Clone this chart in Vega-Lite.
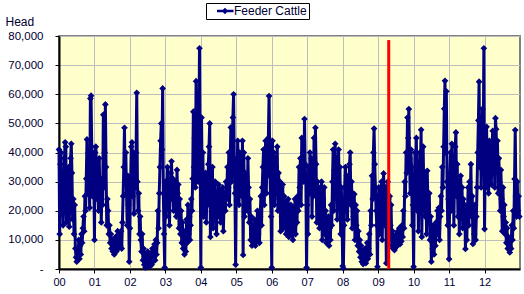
{
"$schema":"https://vega.github.io/schema/vega-lite/v6.json",
"width":461,"height":233,
"autosize":{"type":"none"},
"padding":{"left":59,"top":36,"right":4,"bottom":25},
"background":"white",
"config":{"view":{"fill":"#FFFFCC","stroke":"#808080","strokeWidth":2},"font":"Liberation Sans"},
"datasets":{
"red":[{"w":483.5,"v":78600,"v2":0}],
"s":[
{"w":0,"v":41000},{"w":1,"v":12000},{"w":2,"v":36000},{"w":3,"v":40000},{"w":4,"v":19000},{"w":5,"v":31000},{"w":6,"v":15000},{"w":7,"v":24000},{"w":8,"v":38000},{"w":9,"v":43500},
{"w":10,"v":42000},{"w":11,"v":16000},{"w":12,"v":30000},{"w":13,"v":20000},{"w":14,"v":35000},{"w":15,"v":14500},{"w":16,"v":27000},{"w":17,"v":38000},{"w":18,"v":43000},{"w":19,"v":33000},
{"w":20,"v":17000},{"w":21,"v":24000},{"w":22,"v":12000},{"w":23,"v":22000},{"w":24,"v":7000},{"w":25,"v":4000},{"w":26,"v":2500},{"w":27,"v":6000},{"w":28,"v":4500},{"w":29,"v":10000},
{"w":30,"v":3500},{"w":31,"v":8000},{"w":32,"v":5000},{"w":33,"v":12000},{"w":34,"v":9000},{"w":35,"v":14000},{"w":36,"v":18000},{"w":37,"v":13000},{"w":38,"v":25000},{"w":39,"v":20000},
{"w":40,"v":31000},{"w":41,"v":44500},{"w":42,"v":26000},{"w":43,"v":40000},{"w":44,"v":33000},{"w":45,"v":21000},{"w":46,"v":58500},{"w":47,"v":59500},{"w":48,"v":42000},{"w":49,"v":25000},
{"w":50,"v":40000},{"w":51,"v":34000},
{"w":52,"v":10000},{"w":53,"v":40000},{"w":54,"v":42000},{"w":55,"v":35000},{"w":56,"v":24000},{"w":57,"v":30000},{"w":58,"v":20000},{"w":59,"v":38000},{"w":60,"v":26000},{"w":61,"v":31000},
{"w":62,"v":16000},{"w":63,"v":30000},{"w":64,"v":22000},{"w":65,"v":53000},{"w":66,"v":28000},{"w":67,"v":40000},{"w":68,"v":56500},{"w":69,"v":35000},{"w":70,"v":15000},{"w":71,"v":24000},
{"w":72,"v":20000},{"w":73,"v":12000},{"w":74,"v":15000},{"w":75,"v":9000},{"w":76,"v":12000},{"w":77,"v":7000},{"w":78,"v":10000},{"w":79,"v":6000},{"w":80,"v":8000},{"w":81,"v":5000},
{"w":82,"v":7000},{"w":83,"v":11000},{"w":84,"v":6000},{"w":85,"v":9000},{"w":86,"v":13000},{"w":87,"v":7000},{"w":88,"v":10000},{"w":89,"v":12000},{"w":90,"v":8000},{"w":91,"v":13000},
{"w":92,"v":7000},{"w":93,"v":16000},{"w":94,"v":25000},{"w":95,"v":35000},{"w":96,"v":48500},{"w":97,"v":30000},{"w":98,"v":40000},{"w":99,"v":26000},{"w":100,"v":15000},{"w":101,"v":32000},
{"w":102,"v":22000},{"w":103,"v":2500},
{"w":104,"v":14000},{"w":105,"v":30000},{"w":106,"v":42000},{"w":107,"v":43500},{"w":108,"v":25000},{"w":109,"v":40000},{"w":110,"v":19000},{"w":111,"v":36000},{"w":112,"v":28000},{"w":113,"v":40000},
{"w":114,"v":60500},{"w":115,"v":30000},{"w":116,"v":20000},{"w":117,"v":26000},{"w":118,"v":12000},{"w":119,"v":18000},{"w":120,"v":10000},{"w":121,"v":6000},{"w":122,"v":12000},{"w":123,"v":3000},
{"w":124,"v":7000},{"w":125,"v":1500},{"w":126,"v":5000},{"w":127,"v":500},{"w":128,"v":3500},{"w":129,"v":1000},{"w":130,"v":6000},{"w":131,"v":2000},{"w":132,"v":4500},{"w":133,"v":800},
{"w":134,"v":3000},{"w":135,"v":5500},{"w":136,"v":1500},{"w":137,"v":7000},{"w":138,"v":2500},{"w":139,"v":4000},{"w":140,"v":8500},{"w":141,"v":3000},{"w":142,"v":10000},{"w":143,"v":5000},
{"w":144,"v":9000},{"w":145,"v":20000},{"w":146,"v":14000},{"w":147,"v":26000},{"w":148,"v":35000},{"w":149,"v":44000},{"w":150,"v":50000},{"w":151,"v":41000},{"w":152,"v":62000},{"w":153,"v":26000},
{"w":154,"v":12000},{"w":155,"v":500},
{"w":156,"v":30000},{"w":157,"v":18000},{"w":158,"v":26000},{"w":159,"v":35000},{"w":160,"v":22000},{"w":161,"v":30000},{"w":162,"v":15000},{"w":163,"v":27000},{"w":164,"v":33000},{"w":165,"v":37000},
{"w":166,"v":24000},{"w":167,"v":31000},{"w":168,"v":20000},{"w":169,"v":28000},{"w":170,"v":25000},{"w":171,"v":30000},{"w":172,"v":18000},{"w":173,"v":34000},{"w":174,"v":26000},{"w":175,"v":29000},
{"w":176,"v":14000},{"w":177,"v":24000},{"w":178,"v":12000},{"w":179,"v":20000},{"w":180,"v":9000},{"w":181,"v":16000},{"w":182,"v":7000},{"w":183,"v":13000},{"w":184,"v":5000},{"w":185,"v":11000},
{"w":186,"v":6000},{"w":187,"v":17000},{"w":188,"v":9000},{"w":189,"v":22000},{"w":190,"v":12000},{"w":191,"v":18000},{"w":192,"v":10000},{"w":193,"v":15000},{"w":194,"v":24000},{"w":195,"v":20000},
{"w":196,"v":31000},{"w":197,"v":54000},{"w":198,"v":35000},{"w":199,"v":45000},{"w":200,"v":28000},{"w":201,"v":64500},{"w":202,"v":42000},{"w":203,"v":55000},{"w":204,"v":30000},{"w":205,"v":40000},
{"w":206,"v":75800},{"w":207,"v":38000},
{"w":208,"v":500},{"w":209,"v":52000},{"w":210,"v":30000},{"w":211,"v":40000},{"w":212,"v":18000},{"w":213,"v":32000},{"w":214,"v":25000},{"w":215,"v":33000},{"w":216,"v":16000},{"w":217,"v":28000},
{"w":218,"v":22000},{"w":219,"v":36000},{"w":220,"v":42000},{"w":221,"v":50000},{"w":222,"v":11000},{"w":223,"v":30000},{"w":224,"v":24000},{"w":225,"v":35000},{"w":226,"v":14000},{"w":227,"v":27000},
{"w":228,"v":20000},{"w":229,"v":30000},{"w":230,"v":22000},{"w":231,"v":12000},{"w":232,"v":26000},{"w":233,"v":18000},{"w":234,"v":29000},{"w":235,"v":21000},{"w":236,"v":27000},{"w":237,"v":16000},
{"w":238,"v":24000},{"w":239,"v":19000},{"w":240,"v":28000},{"w":241,"v":13000},{"w":242,"v":22000},{"w":243,"v":26000},{"w":244,"v":20000},{"w":245,"v":30000},{"w":246,"v":24000},{"w":247,"v":35000},
{"w":248,"v":28000},{"w":249,"v":40000},{"w":250,"v":22000},{"w":251,"v":36000},{"w":252,"v":48600},{"w":253,"v":30000},{"w":254,"v":42000},{"w":255,"v":52000},{"w":256,"v":60000},{"w":257,"v":38000},
{"w":258,"v":26000},{"w":259,"v":1500},
{"w":260,"v":28000},{"w":261,"v":30000},{"w":262,"v":44000},{"w":263,"v":36000},{"w":264,"v":22000},{"w":265,"v":40000},{"w":266,"v":28000},{"w":267,"v":34000},{"w":268,"v":25000},{"w":269,"v":44000},
{"w":270,"v":4800},{"w":271,"v":40000},{"w":272,"v":18000},{"w":273,"v":33000},{"w":274,"v":24000},{"w":275,"v":30000},{"w":276,"v":20000},{"w":277,"v":38000},{"w":278,"v":28000},{"w":279,"v":16000},
{"w":280,"v":24000},{"w":281,"v":10000},{"w":282,"v":18000},{"w":283,"v":8000},{"w":284,"v":15000},{"w":285,"v":11000},{"w":286,"v":9000},{"w":287,"v":17000},{"w":288,"v":8000},{"w":289,"v":13000},
{"w":290,"v":10000},{"w":291,"v":20000},{"w":292,"v":12000},{"w":293,"v":15000},{"w":294,"v":9000},{"w":295,"v":18000},{"w":296,"v":25000},{"w":297,"v":15000},{"w":298,"v":28000},{"w":299,"v":35000},
{"w":300,"v":41000},{"w":301,"v":22000},{"w":302,"v":36000},{"w":303,"v":44000},{"w":304,"v":26000},{"w":305,"v":40000},{"w":306,"v":32000},{"w":307,"v":45000},{"w":308,"v":59400},{"w":309,"v":38000},
{"w":310,"v":26000},{"w":311,"v":18000},
{"w":312,"v":500},{"w":313,"v":44000},{"w":314,"v":30000},{"w":315,"v":40000},{"w":316,"v":22000},{"w":317,"v":38000},{"w":318,"v":35000},{"w":319,"v":26000},{"w":320,"v":42000},{"w":321,"v":20000},
{"w":322,"v":33000},{"w":323,"v":24000},{"w":324,"v":30000},{"w":325,"v":13000},{"w":326,"v":28000},{"w":327,"v":18000},{"w":328,"v":29000},{"w":329,"v":14000},{"w":330,"v":25000},{"w":331,"v":17000},
{"w":332,"v":23000},{"w":333,"v":12000},{"w":334,"v":20000},{"w":335,"v":15000},{"w":336,"v":24000},{"w":337,"v":11000},{"w":338,"v":19000},{"w":339,"v":14000},{"w":340,"v":22000},{"w":341,"v":12000},
{"w":342,"v":18000},{"w":343,"v":10000},{"w":344,"v":21000},{"w":345,"v":15000},{"w":346,"v":24000},{"w":347,"v":12000},{"w":348,"v":20000},{"w":349,"v":16000},{"w":350,"v":25000},{"w":351,"v":20000},
{"w":352,"v":35000},{"w":353,"v":28000},{"w":354,"v":38000},{"w":355,"v":22000},{"w":356,"v":45000},{"w":357,"v":32000},{"w":358,"v":40000},{"w":359,"v":30000},{"w":360,"v":51500},{"w":361,"v":36000},
{"w":362,"v":30000},{"w":363,"v":500},
{"w":364,"v":22000},{"w":365,"v":12000},{"w":366,"v":35000},{"w":367,"v":26000},{"w":368,"v":40000},{"w":369,"v":30000},{"w":370,"v":38000},{"w":371,"v":18000},{"w":372,"v":33000},{"w":373,"v":25000},
{"w":374,"v":45000},{"w":375,"v":28000},{"w":376,"v":48500},{"w":377,"v":36000},{"w":378,"v":16000},{"w":379,"v":30000},{"w":380,"v":22000},{"w":381,"v":28000},{"w":382,"v":14000},{"w":383,"v":26000},
{"w":384,"v":20000},{"w":385,"v":30000},{"w":386,"v":10000},{"w":387,"v":24000},{"w":388,"v":17000},{"w":389,"v":28000},{"w":390,"v":12000},{"w":391,"v":20000},{"w":392,"v":9000},{"w":393,"v":15000},
{"w":394,"v":11000},{"w":395,"v":18000},{"w":396,"v":8000},{"w":397,"v":14000},{"w":398,"v":10000},{"w":399,"v":22000},{"w":400,"v":15000},{"w":401,"v":30000},{"w":402,"v":41000},{"w":403,"v":20000},
{"w":404,"v":34000},{"w":405,"v":43000},{"w":406,"v":26000},{"w":407,"v":38000},{"w":408,"v":17000},{"w":409,"v":30000},{"w":410,"v":41000},{"w":411,"v":24000},{"w":412,"v":35000},{"w":413,"v":12000},
{"w":414,"v":28000},{"w":415,"v":18000},
{"w":416,"v":1000},{"w":417,"v":300},{"w":418,"v":15000},{"w":419,"v":28000},{"w":420,"v":35000},{"w":421,"v":20000},{"w":422,"v":32000},{"w":423,"v":17000},{"w":424,"v":30000},{"w":425,"v":24000},
{"w":426,"v":36000},{"w":427,"v":40000},{"w":428,"v":22000},{"w":429,"v":30000},{"w":430,"v":14000},{"w":431,"v":26000},{"w":432,"v":18000},{"w":433,"v":25700},{"w":434,"v":10000},{"w":435,"v":22000},
{"w":436,"v":15000},{"w":437,"v":20000},{"w":438,"v":8000},{"w":439,"v":13000},{"w":440,"v":6000},{"w":441,"v":10000},{"w":442,"v":4000},{"w":443,"v":8000},{"w":444,"v":2500},{"w":445,"v":6000},
{"w":446,"v":1700},{"w":447,"v":5000},{"w":448,"v":3000},{"w":449,"v":7000},{"w":450,"v":2000},{"w":451,"v":5500},{"w":452,"v":9000},{"w":453,"v":3500},{"w":454,"v":7000},{"w":455,"v":12000},
{"w":456,"v":5000},{"w":457,"v":20000},{"w":458,"v":15000},{"w":459,"v":32000},{"w":460,"v":24000},{"w":461,"v":40000},{"w":462,"v":48200},{"w":463,"v":36000},{"w":464,"v":28000},{"w":465,"v":20000},
{"w":466,"v":15000},{"w":467,"v":800},
{"w":468,"v":20000},{"w":469,"v":28000},{"w":470,"v":12000},{"w":471,"v":25000},{"w":472,"v":18000},{"w":473,"v":30000},{"w":474,"v":10000},{"w":475,"v":26000},{"w":476,"v":32800},{"w":477,"v":22000},
{"w":478,"v":15000},{"w":479,"v":28000},{"w":480,"v":2000},{"w":481,"v":20000},{"w":482,"v":30000},{"w":483,"v":24000},{"w":484,"v":10000},{"w":485,"v":25000},{"w":486,"v":15000},{"w":487,"v":22000},
{"w":488,"v":8000},{"w":489,"v":13000},{"w":490,"v":7000},{"w":491,"v":11000},{"w":492,"v":6500},{"w":493,"v":10000},{"w":494,"v":7500},{"w":495,"v":12000},{"w":496,"v":8000},{"w":497,"v":13000},
{"w":498,"v":9000},{"w":499,"v":14000},{"w":500,"v":8500},{"w":501,"v":12000},{"w":502,"v":9500},{"w":503,"v":15000},{"w":504,"v":11000},{"w":505,"v":20000},{"w":506,"v":14000},{"w":507,"v":30000},
{"w":508,"v":25000},{"w":509,"v":40000},{"w":510,"v":33000},{"w":511,"v":52000},{"w":512,"v":45000},{"w":513,"v":54900},{"w":514,"v":38000},{"w":515,"v":26000},{"w":516,"v":41000},{"w":517,"v":35000},
{"w":518,"v":15000},{"w":519,"v":22000},
{"w":520,"v":800},{"w":521,"v":25000},{"w":522,"v":40000},{"w":523,"v":30000},{"w":524,"v":45000},{"w":525,"v":20000},{"w":526,"v":36000},{"w":527,"v":13000},{"w":528,"v":28000},{"w":529,"v":40000},
{"w":530,"v":35000},{"w":531,"v":47800},{"w":532,"v":11000},{"w":533,"v":30000},{"w":534,"v":42000},{"w":535,"v":25000},{"w":536,"v":33000},{"w":537,"v":18000},{"w":538,"v":28000},{"w":539,"v":12000},
{"w":540,"v":33700},{"w":541,"v":22000},{"w":542,"v":16000},{"w":543,"v":26000},{"w":544,"v":10000},{"w":545,"v":18000},{"w":546,"v":2500},{"w":547,"v":12000},{"w":548,"v":7000},{"w":549,"v":15000},
{"w":550,"v":5000},{"w":551,"v":11000},{"w":552,"v":8000},{"w":553,"v":16000},{"w":554,"v":12000},{"w":555,"v":20000},{"w":556,"v":14000},{"w":557,"v":21000},{"w":558,"v":10000},{"w":559,"v":18000},
{"w":560,"v":25000},{"w":561,"v":20000},{"w":562,"v":35000},{"w":563,"v":28000},{"w":564,"v":42000},{"w":565,"v":55000},{"w":566,"v":64600},{"w":567,"v":40000},{"w":568,"v":61000},{"w":569,"v":30000},
{"w":570,"v":15000},{"w":571,"v":24000},
{"w":572,"v":3400},{"w":573,"v":30000},{"w":574,"v":40000},{"w":575,"v":20000},{"w":576,"v":43000},{"w":577,"v":28000},{"w":578,"v":38000},{"w":579,"v":15000},{"w":580,"v":33000},{"w":581,"v":42000},
{"w":582,"v":46900},{"w":583,"v":25000},{"w":584,"v":36000},{"w":585,"v":18000},{"w":586,"v":30000},{"w":587,"v":12000},{"w":588,"v":26000},{"w":589,"v":32000},{"w":590,"v":20000},{"w":591,"v":28000},
{"w":592,"v":14000},{"w":593,"v":24000},{"w":594,"v":17000},{"w":595,"v":22000},{"w":596,"v":6900},{"w":597,"v":15000},{"w":598,"v":10000},{"w":599,"v":20000},{"w":600,"v":28000},{"w":601,"v":15000},
{"w":602,"v":30000},{"w":603,"v":22000},{"w":604,"v":36000},{"w":605,"v":18000},{"w":606,"v":25000},{"w":607,"v":8600},{"w":608,"v":20000},{"w":609,"v":12000},{"w":610,"v":22000},{"w":611,"v":10000},
{"w":612,"v":18000},{"w":613,"v":28000},{"w":614,"v":40000},{"w":615,"v":51000},{"w":616,"v":64300},{"w":617,"v":35000},{"w":618,"v":50000},{"w":619,"v":28000},{"w":620,"v":42000},{"w":621,"v":55000},
{"w":622,"v":38000},{"w":623,"v":75800},
{"w":624,"v":13700},{"w":625,"v":35000},{"w":626,"v":28000},{"w":627,"v":48800},{"w":628,"v":30000},{"w":629,"v":40000},{"w":630,"v":26000},{"w":631,"v":44000},{"w":632,"v":32000},{"w":633,"v":38000},
{"w":634,"v":29000},{"w":635,"v":43000},{"w":636,"v":47400},{"w":637,"v":33000},{"w":638,"v":42000},{"w":639,"v":28000},{"w":640,"v":51800},{"w":641,"v":48000},{"w":642,"v":35000},{"w":643,"v":44000},
{"w":644,"v":26000},{"w":645,"v":38000},{"w":646,"v":30000},{"w":647,"v":20000},{"w":648,"v":34000},{"w":649,"v":24000},{"w":650,"v":13000},{"w":651,"v":28000},{"w":652,"v":18000},{"w":653,"v":22000},
{"w":654,"v":12000},{"w":655,"v":16000},{"w":656,"v":9000},{"w":657,"v":14000},{"w":658,"v":7000},{"w":659,"v":11000},{"w":660,"v":8000},{"w":661,"v":5700},{"w":662,"v":10000},{"w":663,"v":7000},
{"w":664,"v":15000},{"w":665,"v":10000},{"w":666,"v":20000},{"w":667,"v":14000},{"w":668,"v":30900},{"w":669,"v":47700},{"w":670,"v":25000},{"w":671,"v":18000},{"w":672,"v":30000},{"w":673,"v":20000},
{"w":674,"v":25000},{"w":675,"v":18000}
]},
"encoding":{
"x":{"field":"w","type":"quantitative","scale":{"domain":[0,676],"nice":false,"zero":false},
"axis":{"values":[0,52,104,156,208,260,312,364,416,468,520,572,624],"labelExpr":"format(datum.value/52,'02d')","title":null,"grid":true,"gridColor":"#BDBDBD","gridWidth":1,"domainColor":"#000000","domainWidth":2,"tickColor":"#000000","tickSize":4,"tickWidth":1,"labelFontSize":11,"labelFont":"Liberation Sans","labelColor":"#000033","labelPadding":3,"labelOverlap":false,"labelFlush":false,"labelBound":false}},
"y":{"field":"v","type":"quantitative","scale":{"domain":[0,80000],"nice":false},
"axis":{"values":[0,10000,20000,30000,40000,50000,60000,70000,80000],"labelExpr":"datum.value == 0 ? '-\u00a0\u00a0' : format(datum.value, ',')","grid":true,"gridColor":"#BDBDBD","gridWidth":1,"domainColor":"#000000","domainWidth":2,"tickColor":"#000000","tickSize":4,"tickWidth":1,"labelFontSize":11.5,"labelFont":"Liberation Sans","labelColor":"#000033","labelPadding":12,"labelOverlap":false,"labelFlush":false,"labelBound":false,
"title":"Head","titleAngle":0,"titleAlign":"left","titleBaseline":"alphabetic","titleX":-54,"titleY":-11,"titleFontSize":12,"titleFont":"Liberation Sans","titleFontWeight":"normal","titleColor":"#000033"}}
},
"layer":[
{"data":{"name":"s"},"mark":{"type":"line","color":"#000080","strokeWidth":3}},
{"data":{"name":"s"},"mark":{"type":"point","shape":"diamond","filled":true,"size":45,"opacity":1},
"encoding":{"color":{"datum":"Feeder Cattle","type":"nominal","scale":{"range":["#000080"]},
"legend":{"orient":"none","legendX":147,"legendY":-33,"title":null,"strokeColor":"#000000","fillColor":"#FFFFFF","padding":2,
"symbolType":"M0.5,-0.2L3.25,-0.2L3.25,0.2L0.5,0.2Z M1.83,-0.55L2.38,0L1.83,0.55L1.28,0Z","symbolSize":144,"symbolFillColor":"#000080","symbolStrokeWidth":0,"symbolOpacity":1,
"labelFontSize":12,"labelFont":"Liberation Sans","labelColor":"#000033","labelOffset":14}}}},
{"data":{"name":"red"},"mark":{"type":"rule","color":"#FF0000","strokeWidth":3},"encoding":{"y2":{"field":"v2"}}}
]
}
